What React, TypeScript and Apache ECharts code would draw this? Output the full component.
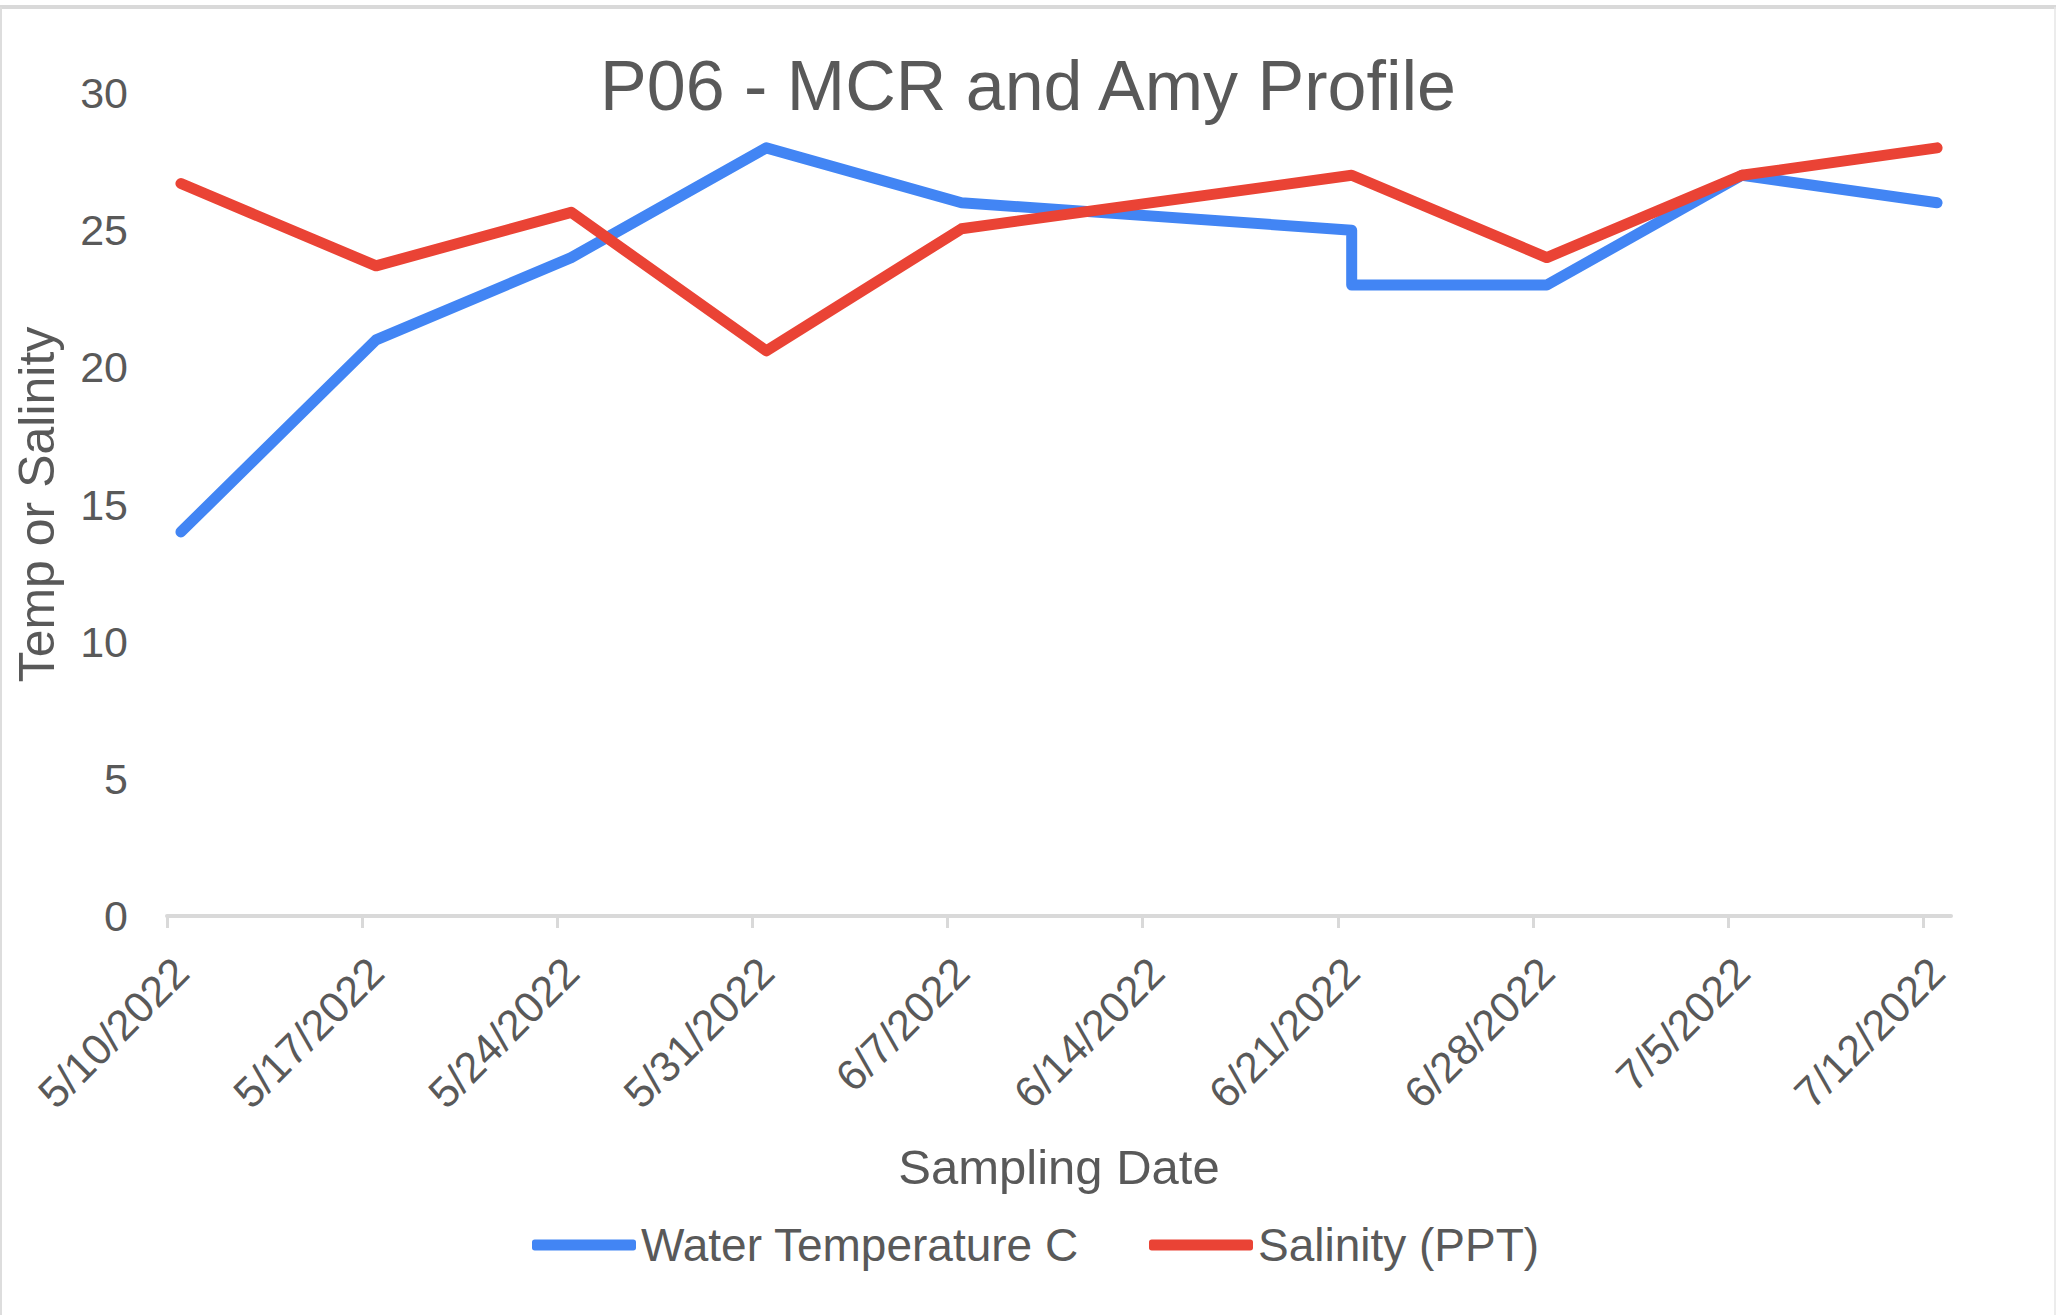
import React, { useEffect, useRef } from "react";
import * as echarts from "echarts";

// ---- data ----
const sampleDates = [
  "5/10/2022",
  "5/17/2022",
  "5/24/2022",
  "5/31/2022",
  "6/7/2022",
  "6/21/2022",
  "6/21/2022",
  "6/28/2022",
  "7/5/2022",
  "7/12/2022",
];
const waterTemperatureC = [14, 21, 24, 28, 26, 25, 23, 23, 27, 26];
const salinityPPT = [26.7, 23.7, 25.65, 20.6, 25.05, 27, 27, 24, 27, 28];

const axisTickDates = [
  "5/10/2022",
  "5/17/2022",
  "5/24/2022",
  "5/31/2022",
  "6/7/2022",
  "6/14/2022",
  "6/21/2022",
  "6/28/2022",
  "7/5/2022",
  "7/12/2022",
];
const axisEndDate = "7/13/2022";
const yMin = 0;
const yMax = 30;
const yStep = 5;

const titleText = "P06 - MCR and Amy Profile";
const xAxisTitle = "Sampling Date";
const yAxisTitle = "Temp or Salinity";
const seriesNames = ["Water Temperature C", "Salinity (PPT)"];

// ---- helpers ----
const DAY = 86400000;
function parseDate(s: string): number {
  const [m, d, y] = s.split("/").map(Number);
  return Date.UTC(y, m - 1, d);
}
const origin = parseDate(axisTickDates[0]);
const toDay = (s: string) => (parseDate(s) - origin) / DAY;
// points sit in the middle of their day, as on a date axis
const toPos = (s: string) => toDay(s) + 0.5;
function formatDay(v: number): string {
  const t = new Date(origin + Math.floor(v + 1e-6) * DAY);
  return `${t.getUTCMonth() + 1}/${t.getUTCDate()}/${t.getUTCFullYear()}`;
}

const FONT = 'Arial, "Liberation Sans", Helvetica, sans-serif';
const TEXT = "#595959";
const AXIS = "#d9d9d9";
const BLUE = "#4285F4";
const RED = "#EA4335";

export default function App() {
  const ref = useRef<HTMLDivElement>(null);

  useEffect(() => {
    if (!ref.current) return;
    const chart = echarts.init(ref.current, undefined, { renderer: "svg" });

    const tempData = sampleDates.map((d, i) => [toPos(d), waterTemperatureC[i]]);
    const salData = sampleDates.map((d, i) => [toPos(d), salinityPPT[i]]);

    chart.setOption({
      animation: false,
      backgroundColor: "#ffffff",
      title: {
        text: titleText,
        left: "center",
        top: 41,
        textStyle: {
          fontFamily: FONT,
          fontSize: 70,
          fontWeight: "normal",
          color: TEXT,
          lineHeight: 80,
        },
      },
      grid: { left: 167, right: 105, top: 93, bottom: 399, containLabel: false },
      legend: {
        left: 527,
        top: 1215,
        itemWidth: 104,
        itemHeight: 11,
        itemGap: 70,
        icon: "roundRect",
        textStyle: { fontFamily: FONT, fontSize: 46, color: TEXT, lineHeight: 50 },
        data: seriesNames,
      },
      xAxis: {
        type: "value",
        min: 0,
        max: toDay(axisEndDate),
        interval: 7,
        name: xAxisTitle,
        nameLocation: "middle",
        nameGap: 226,
        nameTextStyle: { fontFamily: FONT, fontSize: 49, color: TEXT },
        axisLine: { show: true, onZero: false, lineStyle: { color: AXIS, width: 4 } },
        axisTick: {
          show: true,
          length: 12,
          lineStyle: { color: AXIS, width: 3 },
          customValues: axisTickDates.map(toDay),
        },
        axisLabel: {
          customValues: axisTickDates.map(toPos),
          formatter: (v: number) => formatDay(v),
          rotate: 45,
          margin: 49,
          fontFamily: FONT,
          fontSize: 43,
          color: TEXT,
        },
        splitLine: { show: false },
      },
      yAxis: {
        type: "value",
        min: yMin,
        max: yMax,
        interval: yStep,
        name: yAxisTitle,
        nameLocation: "middle",
        nameRotate: 90,
        nameGap: 105,
        nameTextStyle: { fontFamily: FONT, fontSize: 50, color: TEXT },
        axisLine: { show: false },
        axisTick: { show: false },
        splitLine: { show: false },
        axisLabel: { margin: 39, fontFamily: FONT, fontSize: 43, color: TEXT },
      },
      series: [
        {
          name: seriesNames[0],
          type: "line",
          data: tempData,
          showSymbol: false,
          symbol: "none",
          color: BLUE,
          lineStyle: { width: 11, color: BLUE, cap: "round", join: "round" },
          z: 2,
        },
        {
          name: seriesNames[1],
          type: "line",
          data: salData,
          showSymbol: false,
          symbol: "none",
          color: RED,
          lineStyle: { width: 11, color: RED, cap: "round", join: "round" },
          z: 3,
        },
      ],
      graphic: [
        {
          type: "line",
          shape: { x1: 0, y1: 7, x2: 2056, y2: 7 },
          style: { stroke: "#d9d9d9", lineWidth: 4 },
          silent: true,
        },
        {
          type: "line",
          shape: { x1: 1, y1: 7, x2: 1, y2: 1315 },
          style: { stroke: "#dddddd", lineWidth: 2 },
          silent: true,
        },
        {
          type: "line",
          shape: { x1: 2055, y1: 7, x2: 2055, y2: 1315 },
          style: { stroke: "#e6e6e6", lineWidth: 1.5 },
          silent: true,
        },
      ],
    });

    return () => chart.dispose();
  }, []);

  return (
    <div
      ref={ref}
      style={{ position: "fixed", left: 0, top: 0, width: 2056, height: 1315, background: "#fff" }}
    />
  );
}
